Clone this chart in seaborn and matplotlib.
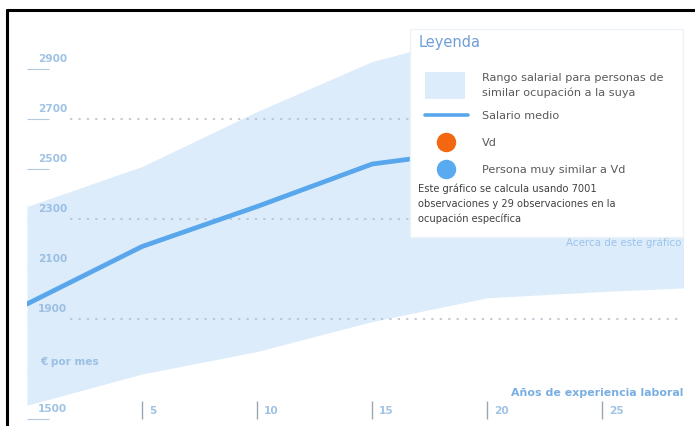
import matplotlib
matplotlib.use("Agg")
import matplotlib.pyplot as plt
import seaborn as sns
import pandas as pd
from matplotlib.patches import Rectangle
from matplotlib.lines import Line2D
import matplotlib.transforms as mtransforms

# ---- data ----
years = [0, 5, 10, 15, 20, 25, 30]
salario_medio = [1960, 2190, 2350, 2520, 2580, 2500, 2420]
rango_sup = [2350, 2510, 2730, 2930, 3050, 3000, 2900]
rango_inf = [1555, 1680, 1770, 1890, 1985, 2010, 2030]
y_ticks = [1500, 1700, 1900, 2100, 2300, 2500, 2700, 2900]
y_tick_labels = ["1500", "", "1900", "2100", "2300", "2500", "2700", "2900"]
grid_values = [1900, 2300, 2700]
x_ticks = [5, 10, 15, 20, 25]
x_tick_labels = ["5", "10", "15", "20", "25"]

df = pd.DataFrame({"anios": years, "medio": salario_medio,
                   "sup": rango_sup, "inf": rango_inf})

W, H = 695, 427
sns.set_theme(style="white")
plt.rcParams['font.family'] = ['DejaVu Sans']

fig = plt.figure(figsize=(W / 100, H / 100), dpi=100)
fig.patch.set_facecolor("white")

def fx(px):
    return px / W

def fy(py):
    return 1 - py / H

ax_l, ax_r, ax_t, ax_b = 27, 683, 30, 420
ax = fig.add_axes([fx(ax_l), fy(ax_b), fx(ax_r) - fx(ax_l), fy(ax_t) - fy(ax_b)])
ax.set_facecolor("white")

band_col = "#ddecfa"
line_col = "#58a7ec"
tick_col = "#8fb8e0"

ax.fill_between(df["anios"], df["inf"], df["sup"], color=band_col, lw=0, zorder=1)

trans_h = mtransforms.blended_transform_factory(ax.transAxes, ax.transData)
for g in grid_values:
    ax.plot([(70 - ax_l) / (ax_r - ax_l), 1], [g, g], transform=trans_h,
            color="#b3bec8", lw=1.1, ls=(0, (1.5, 4)), zorder=2)

sns.lineplot(data=df, x="anios", y="medio", ax=ax, color=line_col, lw=3.4,
             zorder=3, legend=False)

ax.set_xlim(0, 28.5)
ax.set_ylim(1500, 3060)
for s in ax.spines.values():
    s.set_visible(False)
ax.set_xlabel("")
ax.set_ylabel("")

ax.set_yticks(y_ticks)
ax.set_yticklabels([])
ax.tick_params(axis="y", direction="in", length=16, width=0.8, color="#b5c8dc", left=True, pad=0)
ax.set_xticks(x_ticks)
ax.set_xticklabels([])
ax.tick_params(axis="x", direction="in", length=13, width=1.0, color="#9aa6b2", bottom=True, pad=0)

for v, lab in zip(y_ticks, y_tick_labels):
    if lab:
        ax.annotate(lab, xy=(0, v), xycoords=trans_h, xytext=(8, 4),
                    textcoords="offset points", fontsize=7.6, fontweight="bold",
                    color=tick_col, va="bottom", ha="left", alpha=0.85, zorder=4)

trans_v = mtransforms.blended_transform_factory(ax.transData, ax.transAxes)
for v, lab in zip(x_ticks, x_tick_labels):
    ax.annotate(lab, xy=(v, 0), xycoords=trans_v, xytext=(5, 3),
                textcoords="offset points", fontsize=7.6, fontweight="bold",
                color=tick_col, va="bottom", ha="left", alpha=0.85, zorder=4)

fig.text(fx(40), fy(362), "€ por mes", fontsize=7.6, fontweight="bold",
         color=tick_col, va="center", ha="left", alpha=0.85)
fig.text(fx(683), fy(393), "Años de experiencia laboral", fontsize=7.9,
         fontweight="bold", color="#78aee2", va="center", ha="right")
fig.text(fx(681), fy(243), "Acerca de este gráfico", fontsize=7.4,
         color="#9cc4ec", va="center", ha="right")

# ---- legend box ----
fig.add_artist(Rectangle((fx(410), fy(238)), fx(683) - fx(410), fy(30) - fy(238),
                         transform=fig.transFigure, facecolor="white",
                         edgecolor="#eef2f6", lw=1.0, zorder=5))
fig.text(fx(419), fy(43), "Leyenda", fontsize=10.5, color="#6f9fd6",
         va="center", ha="left", zorder=6)
fig.add_artist(Rectangle((fx(425), fy(100)), fx(465) - fx(425), fy(73) - fy(100),
                         transform=fig.transFigure, facecolor=band_col, lw=0, zorder=6))
fig.add_artist(Line2D([fx(425), fx(468)], [fy(116), fy(116)], transform=fig.transFigure,
                      color=line_col, lw=2.6, zorder=6))
for cy, col in [(143, "#f2670f"), (170, "#5aaaf0")]:
    fig.add_artist(Line2D([fx(446)], [fy(cy)], transform=fig.transFigure, marker="o",
                          markersize=13, color=col, lw=0, zorder=6))

leg_col = "#5a5a5a"
leg_font = ["DejaVu Sans"]
fig.text(fx(482), fy(85.5), "Rango salarial para personas de\nsimilar ocupación a la suya",
         fontsize=8.1, color=leg_col, va="center", ha="left", family=leg_font,
         linespacing=1.5, zorder=6)
fig.text(fx(482), fy(116), "Salario medio", fontsize=8.1, color=leg_col,
         va="center", ha="left", family=leg_font, zorder=6)
fig.text(fx(482), fy(143), "Vd", fontsize=8.1, color=leg_col,
         va="center", ha="left", family=leg_font, zorder=6)
fig.text(fx(482), fy(170), "Persona muy similar a Vd", fontsize=8.1, color=leg_col,
         va="center", ha="left", family=leg_font, zorder=6)
fig.text(fx(418), fy(204), "Este gráfico se calcula usando 7001\nobservaciones y 29 observaciones en la\nocupación específica",
         fontsize=7.1, color="#404040", va="center", ha="left", family=leg_font,
         linespacing=1.55, zorder=6)

# ---- black frame ----
fig.add_artist(Line2D([fx(7), fx(7)], [0, fy(11)], transform=fig.transFigure,
                      color="black", lw=2.2, zorder=10))
fig.add_artist(Line2D([fx(7), 1], [fy(11), fy(11)], transform=fig.transFigure,
                      color="black", lw=2.2, zorder=10))

fig.savefig("out.png", dpi=100, facecolor="white")
